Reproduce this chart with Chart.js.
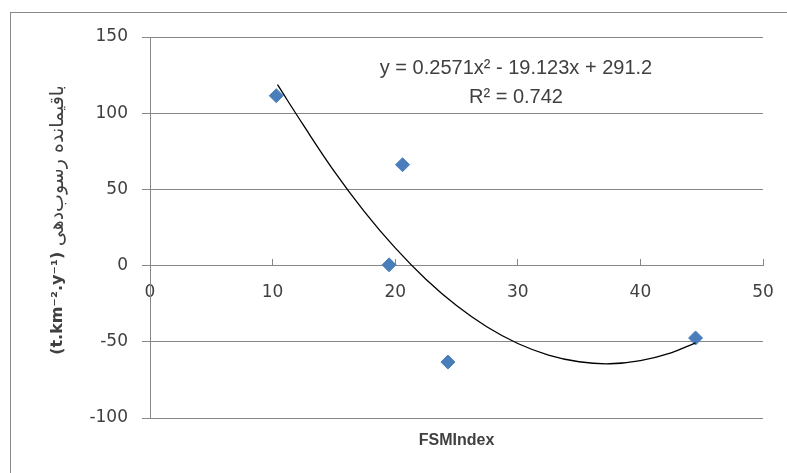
<!DOCTYPE html>
<html>
<head>
<meta charset="utf-8">
<script src="https://cdn.jsdelivr.net/npm/chart.js@4/dist/chart.umd.min.js"></script>
<style>
  body { margin: 0; background: #fff; }
  #wrap { width: 787px; height: 473px; }
</style>
</head>
<body>
<div id="wrap"><canvas id="fsmChart" width="787" height="473"></canvas></div>
<script>
// data
var fsmIndex = [10.3, 20.6, 19.5, 24.3, 44.5];
var residual = [111.5, 66.2, 0.5, -63.3, -47.5];

// trendline as drawn in the picture
var trendX = [10.4, 12.5, 15, 17.5, 20, 22.5, 25, 27.5, 30, 32.5, 35, 37.5, 40, 42.5, 44.5];
var trendY = [118.7, 92.3, 62.2, 35.3, 11.6, -8.9, -26.2, -40.3, -51.1, -58.7, -63.1, -64.4, -62.3, -57.2, -50.7];

var xTicks = [0, 10, 20, 30, 40, 50];
var yTicks = [-100, -50, 0, 50, 100, 150];

var eqLines = ["y = 0.2571x\u00b2 - 19.123x + 291.2", "R\u00b2 = 0.742"];
var yTitleLatin = "(t.km\u207b\u00b2.y\u207b\u00b9)";
var yTitlePersian = "باقیمانده رسوب‌دهی";
var xTitle = "FSMIndex";

var gridGray = "#878787";
var textGray = "#404040";

// outer frame, equation, axis titles
var extras = {
  id: "extras",
  beforeDraw: function (chart) {
    var c = chart.ctx;
    c.save();
    c.strokeStyle = "#8a8a8a";
    c.lineWidth = 1;
    c.strokeRect(10.5, 12.5, 820, 520);
    c.restore();
  },
  afterDraw: function (chart) {
    var c = chart.ctx;
    var a = chart.chartArea;
    c.save();
    c.fillStyle = textGray;
    c.textAlign = "center";
    c.textBaseline = "middle";
    c.font = "20px 'Liberation Sans'";
    c.fillText(eqLines[0], 516, 68);
    c.fillText(eqLines[1], 516, 97);

    c.font = "bold 16px 'Liberation Sans'";
    c.fillText(xTitle, (a.left + a.right) / 2, 441);

    // y title, rotated, bold latin part + regular persian part
    c.translate(58, 220);
    c.rotate(-Math.PI / 2);
    c.font = "bold 16px 'DejaVu Sans'";
    var w1 = c.measureText(yTitleLatin + " ").width;
    c.font = "19px 'DejaVu Sans'";
    var w2 = c.measureText(yTitlePersian).width;
    var start = -(w1 + w2) / 2;
    c.textAlign = "left";
    c.font = "bold 16px 'DejaVu Sans'";
    c.fillText(yTitleLatin, start, 0);
    c.font = "19px 'DejaVu Sans'";
    c.fillText(yTitlePersian, start + w1, 0);
    c.restore();
  }
};

var points = fsmIndex.map(function (v, i) { return { x: v, y: residual[i] }; });
var trend = trendX.map(function (v, i) { return { x: v, y: trendY[i] }; });

var fsmChart = new Chart("fsmChart", {
  type: "scatter",
  data: {
    datasets: [{
      data: trend,
      showLine: true,
      borderColor: "#000",
      borderWidth: 1.3,
      pointRadius: 0,
      tension: 0.4,
      fill: false
    }, {
      data: points,
      pointStyle: "rectRot",
      pointRadius: 7,
      backgroundColor: "#4a7ebb",
      borderColor: "#4a7ebb",
      borderWidth: 1
    }]
  },
  options: {
    responsive: false,
    animation: false,
    layout: { padding: { left: 45, top: 37, right: 24, bottom: 55 } },
    plugins: { legend: { display: false }, tooltip: { enabled: false } },
    scales: {
      x: {
        type: "linear",
        position: { y: 0 },
        min: 0,
        max: 50,
        afterBuildTicks: function (s) { s.ticks = xTicks.map(function (v) { return { value: v }; }); },
        afterFit: function (s) { s.paddingLeft = 0; s.paddingRight = 0; },
        grid: { drawOnChartArea: false, tickLength: -7, color: gridGray },
        border: { color: gridGray },
        ticks: { padding: 24, color: textGray, font: { family: "DejaVu Sans", size: 17 } }
      },
      y: {
        min: -100,
        max: 150,
        afterBuildTicks: function (s) { s.ticks = yTicks.map(function (v) { return { value: v }; }); },
        afterFit: function (s) { s.width = 105; },
        grid: { color: gridGray, tickLength: 8 },
        border: { color: gridGray },
        ticks: { padding: 14, color: textGray, font: { family: "DejaVu Sans", size: 17 } }
      }
    }
  },
  plugins: [extras]
});
</script>
</body>
</html>
